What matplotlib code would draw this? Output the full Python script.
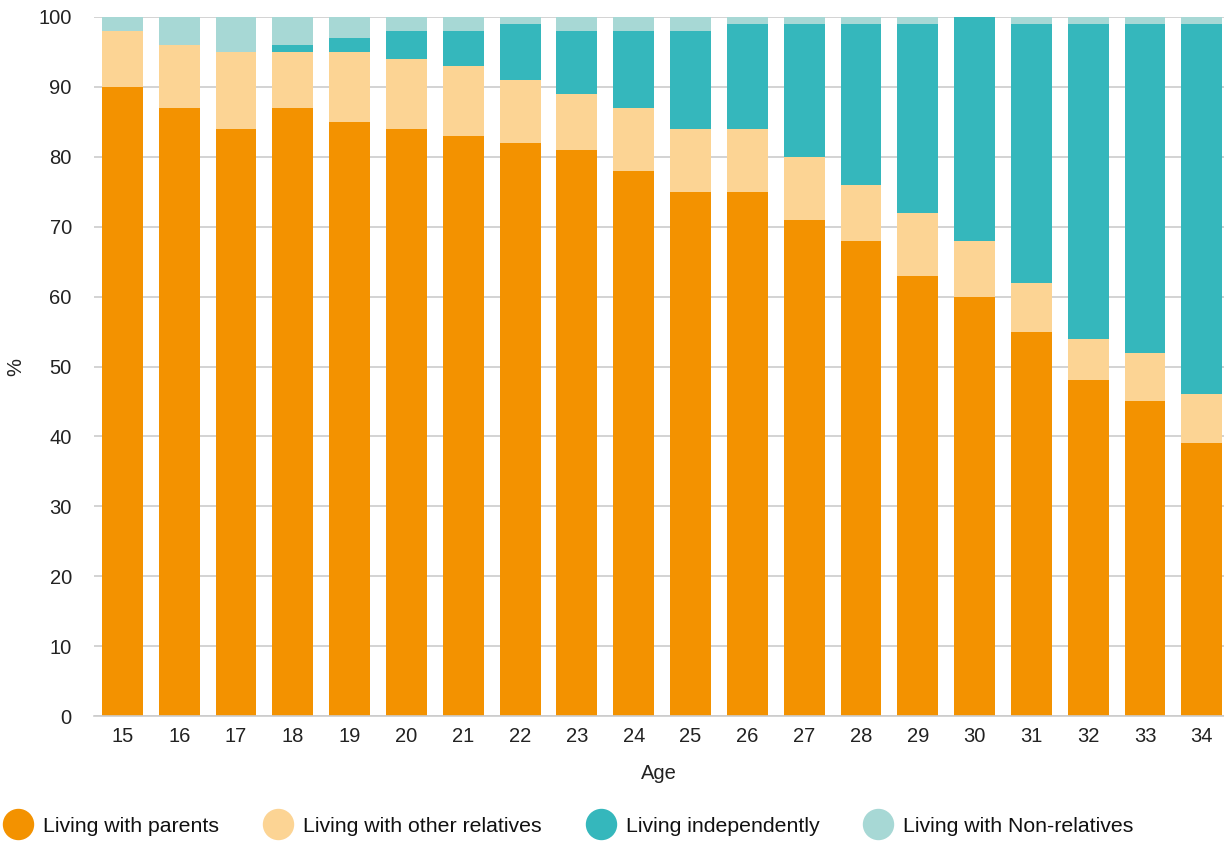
import matplotlib
matplotlib.use("Agg")
import matplotlib.pyplot as plt
from matplotlib.lines import Line2D
import numpy as np

plt.rcParams['font.family'] = ['Liberation Sans', 'DejaVu Sans']

ages = [str(a) for a in range(15, 35)]
parents = [90, 87, 84, 87, 85, 84, 83, 82, 81, 78, 75, 75, 71, 68, 63, 60, 55, 48, 45, 39]
other_rel = [8, 9, 11, 8, 10, 10, 10, 9, 8, 9, 9, 9, 9, 8, 9, 8, 7, 6, 7, 7]
independent = [0, 0, 0, 1, 2, 4, 5, 8, 9, 11, 14, 15, 19, 23, 27, 32, 37, 45, 47, 53]
non_rel = [2, 4, 5, 4, 3, 2, 2, 1, 2, 2, 2, 1, 1, 1, 1, 0, 1, 1, 1, 1]

series = [
    ("Living with parents", parents, "#F39200"),
    ("Living with other relatives", other_rel, "#FCD494"),
    ("Living independently", independent, "#35B7BC"),
    ("Living with Non-relatives", non_rel, "#A7D8D5"),
]

fig = plt.figure(figsize=(12.24, 8.41), dpi=100)
ax = fig.add_axes([94/1224, 125/841, 1130/1224, 699/841])

x = np.arange(len(ages))
bottom = np.zeros(len(ages))
for name, vals, col in series:
    v = np.array(vals, dtype=float)
    ax.bar(x, v, bottom=bottom, width=0.72, color=col, zorder=2, linewidth=0)
    bottom += v

ax.set_xlim(-0.5, 19.39)
ax.set_ylim(0, 100)
ax.set_yticks(range(0, 101, 10))
ax.set_xticks(x)
ax.set_xticklabels(ages)
ax.yaxis.grid(True, color="#cccccc", linewidth=1.2, zorder=0)
ax.set_axisbelow(True)
for s in ["top", "right", "left"]:
    ax.spines[s].set_visible(False)
ax.spines["bottom"].set_color("#cccccc")
ax.spines["bottom"].set_linewidth(1.2)
ax.tick_params(axis="both", length=0, labelsize=14.5, colors="#222222")
ax.tick_params(axis="y", pad=16)
ax.tick_params(axis="x", pad=8)
ax.set_xlabel("Age", fontsize=14.5, labelpad=13, color="#222222")
ax.set_ylabel("%", fontsize=14.5, color="#222222")
ax.yaxis.set_label_coords(-0.061, 0.5)

fs = 15.3
fs_px = fs * 100 / 72
handles = [Line2D([0], [0], marker="o", linestyle="none", markersize=21.6,
                  markerfacecolor=col, markeredgecolor=col) for _, _, col in series]
labels = [name for name, _, _ in series]
fig.legend(handles, labels, loc="center left", bbox_to_anchor=(3/1224, (841-826)/841),
           ncol=4, frameon=False, fontsize=fs, handletextpad=10/fs_px,
           columnspacing=44/fs_px, borderaxespad=0, borderpad=0,
           handlelength=30/fs_px, labelcolor="#111111")

fig.savefig("out.png", dpi=100)
